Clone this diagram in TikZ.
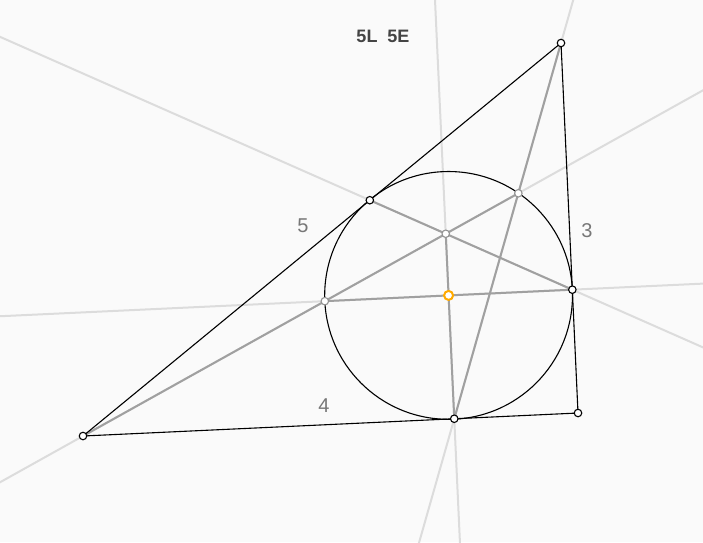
\documentclass[tikz,border=0pt]{standalone}
\usepackage{fontspec}
\setmainfont{Liberation Sans}
\usetikzlibrary{calc}
\definecolor{bgcol}{HTML}{FAFAFA}
\definecolor{darkline}{HTML}{A0A0A0}
\definecolor{lightline}{HTML}{DCDCDC}
\definecolor{ptorange}{HTML}{FFAA00}
\definecolor{labcol}{HTML}{777777}
\definecolor{titlecol}{HTML}{444444}
\tikzset{
  pt/.style={circle, draw=black, fill=white, line width=1.1pt, inner sep=0pt, minimum size=7.5pt},
  ptgray/.style={pt, draw=gray!85},
  ptcenter/.style={pt, draw=ptorange, line width=2pt, minimum size=9pt},
  longline/.style={lightline, line width=2pt},
  segline/.style={darkline, line width=2pt},
  sideline/.style={black, line width=1.1pt},
  sidelabel/.style={labcol, font=\fontsize{20}{22}\selectfont}
}
\begin{document}
\begin{tikzpicture}[x=1pt, y=-1pt]
  \fill[bgcol] (0,0) rectangle (703,542);
  \useasboundingbox (0,0) rectangle (703,542);
  \clip (0,0) rectangle (703,542);
  % triangle and incircle
  \coordinate (A) at (83,436);
  \coordinate (B) at (561,43);
  \coordinate (C) at (578,413);
  \coordinate (I) at ($1/4*(A)+1/3*(B)+5/12*(C)$);
  \coordinate (F) at ($(A)!0.6!(B)$);
  \coordinate (D) at ($(C)!1/3!(B)$);
  \coordinate (E) at ($(C)!1/4!(A)$);
  \coordinate (P) at ($(I)!-1!(D)$);
  \coordinate (M) at (intersection of E--I and F--D);
  \coordinate (Q) at (intersection of A--P and B--E);
  % long lines
  \draw[longline] ($(F)!-5!(D)$) -- ($(F)!6!(D)$);
  \draw[longline] ($(A)!-2!(Q)$) -- ($(A)!3!(Q)$);
  \draw[longline] ($(P)!-4!(D)$) -- ($(P)!5!(D)$);
  \draw[longline] ($(B)!-2!(E)$) -- ($(B)!3!(E)$);
  \draw[longline] ($(E)!-4!(M)$) -- ($(E)!5!(M)$);
  % segments
  \draw[segline] (F) -- (D);
  \draw[segline] (A) -- (Q);
  \draw[segline] (P) -- (D);
  \draw[segline] (B) -- (E);
  \draw[segline] (E) -- (M);
  \draw[sideline] (A) -- (B) -- (C) -- cycle;
  \draw[sideline] let \p1=($(D)-(I)$), \n1={veclen(\x1,\y1)} in (I) circle[radius=\n1];
  % points
  \foreach \p in {A,B,C,D,E,F}
    \node[pt] at (\p) {};
  \foreach \p in {M,P,Q}
    \node[ptgray] at (\p) {};
  \node[ptcenter] at (I) {};
  % labels
  \node[sidelabel] (lab5) at (303,226) {5};
  \node[sidelabel] (lab3) at (587,231) {3};
  \node[sidelabel] (lab4) at (324,406) {4};
  \node[titlecol, font=\fontsize{18}{20}\selectfont\bfseries] (title) at (383,36) {5L\ \ 5E};
\end{tikzpicture}
\end{document}
